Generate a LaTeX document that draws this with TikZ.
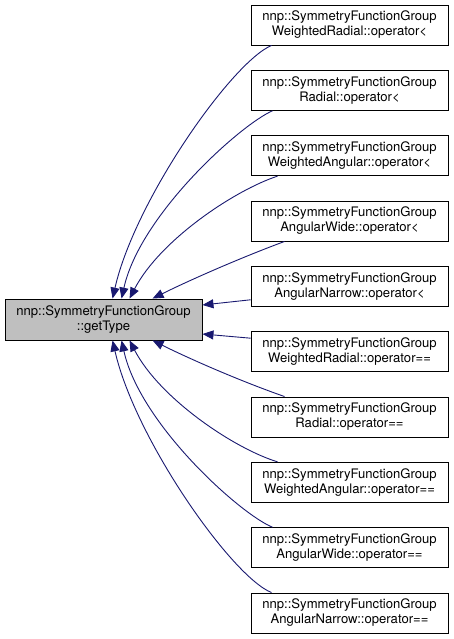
\documentclass[tikz,border=0pt]{standalone}
\usepackage{fontspec}
\setmainfont{TeX Gyre Heros}
\usetikzlibrary{arrows.meta,calc}
\definecolor{edgeblue}{HTML}{191970}
\definecolor{nodegray}{HTML}{BFBFBF}
\begin{document}
\begin{tikzpicture}[x=1pt,y=1pt,
  box/.style={draw=black,line width=0.9pt,fill=white,minimum width=197pt,minimum height=40pt,inner sep=0pt,align=center,font=\fontsize{13.1}{15}\selectfont},
  edge/.style={draw=edgeblue,line width=0.9pt,-{Triangle[length=11pt,width=9pt]}}]
\useasboundingbox (0,0) rectangle (453,639);
\node[box,fill=nodegray,minimum height=41pt] (L) at (103.5,319.5) {nnp::SymmetryFunctionGroup\\::getType};
\node[box] (R1) at (349.5,614) {nnp::SymmetryFunctionGroup\\WeightedRadial::operator<};
\node[box] (R2) at (349.5,548.7) {nnp::SymmetryFunctionGroup\\Radial::operator<};
\node[box] (R3) at (349.5,483.3) {nnp::SymmetryFunctionGroup\\WeightedAngular::operator<};
\node[box] (R4) at (349.5,418) {nnp::SymmetryFunctionGroup\\AngularWide::operator<};
\node[box] (R5) at (349.5,352.7) {nnp::SymmetryFunctionGroup\\AngularNarrow::operator<};
\node[box] (R6) at (349.5,287.3) {nnp::SymmetryFunctionGroup\\WeightedRadial::operator==};
\node[box] (R7) at (349.5,222) {nnp::SymmetryFunctionGroup\\Radial::operator==};
\node[box] (R8) at (349.5,156.7) {nnp::SymmetryFunctionGroup\\WeightedAngular::operator==};
\node[box] (R9) at (349.5,91.3) {nnp::SymmetryFunctionGroup\\AngularWide::operator==};
\node[box] (R10) at (349.5,26) {nnp::SymmetryFunctionGroup\\AngularNarrow::operator==};
% upper edges
\draw[edge] ($(R1.south west)+(21,0)$) .. controls (232,577) and (135,439) .. ($(L.north west)+(108,0)$);
\draw[edge] ($(R2.south west)+(22,0)$) .. controls (240,514) and (140,424) .. ($(L.north west)+(117,0)$);
\draw[edge] ($(R3.south west)+(27,0)$) .. controls (235,449) and (160,399) .. ($(L.north west)+(125,0)$);
\draw[edge] ($(R4.south west)+(34,0)$) .. controls (240,381) and (190,359) .. ($(L.north west)+(148,0)$);
\draw[edge] ($(R5.west)+(0,-13.5)$) -- ($(L.east)+(0,14.5)$);
% lower edges
\draw[edge] ($(R6.west)+(0,13.5)$) -- ($(L.east)+(0,-14.5)$);
\draw[edge] ($(R7.north west)+(34,0)$) .. controls (240,258) and (190,280) .. ($(L.south west)+(148,0)$);
\draw[edge] ($(R8.north west)+(27,0)$) .. controls (235,190) and (160,240) .. ($(L.south west)+(125,0)$);
\draw[edge] ($(R9.north west)+(22,0)$) .. controls (240,125) and (140,215) .. ($(L.south west)+(117,0)$);
\draw[edge] ($(R10.north west)+(21,0)$) .. controls (232,62) and (135,200) .. ($(L.south west)+(108,0)$);
\end{tikzpicture}
\end{document}
